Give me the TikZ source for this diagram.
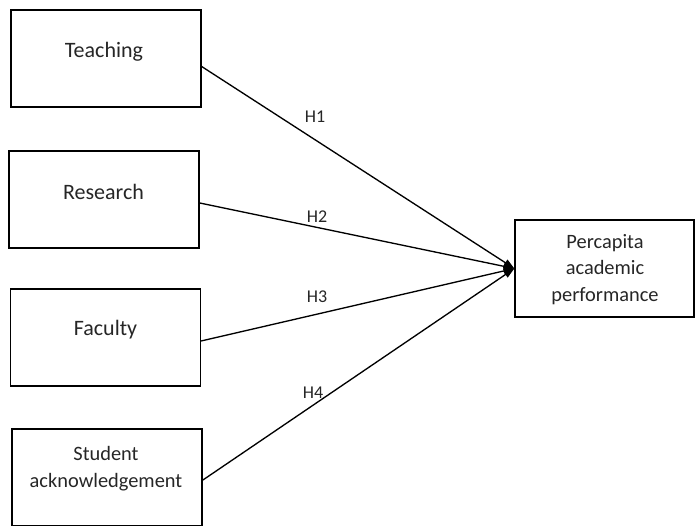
\documentclass[tikz,border=0pt]{standalone}
\usepackage{fontspec}
\setmainfont{Carlito}
\usetikzlibrary{arrows.meta}

\tikzset{
  box/.style={draw, line width=1pt, inner sep=0pt, minimum width=142.5pt, minimum height=72.75pt},
  boxtext/.style={inner sep=0.75pt, text=black!85, font=\fontsize{16.5}{20}\selectfont},
  smalltext/.style={inner sep=0.75pt, text=black!85, align=center, font=\fontsize{15.3}{19.8}\selectfont},
  hlabel/.style={inner sep=0.75pt, text=black!85, font=\fontsize{13.5}{16}\selectfont},
  link/.style={line width=1pt, -{Triangle[length=8pt,width=5.5pt]}}
}

\begin{document}
\begin{tikzpicture}[x=0.75pt,y=0.75pt,yscale=-1,xscale=1]
\useasboundingbox (0,0) rectangle (695,525);

% Boxes
\node [box] (teach) at (106,58.5) {};
\node [box] (research) at (104,199.5) {};
\node [box] (faculty) at (105.5,337.5) {};
\node [box] (student) at (107,477.5) {};
\node [box, minimum width=134.25pt] (perf) at (604.5,268.5) {};

% Text Node
\node [boxtext] (teachtxt) at (104,52) {Teaching};
% Text Node
\node [boxtext] (researchtxt) at (103.5,192) {Research};
% Text Node
\node [boxtext] (facultytxt) at (105.5,330) {Faculty};
% Text Node
\node [smalltext] (studenttxt) at (106,468.5) {Student\\acknowledgement};
% Text Node
\node [smalltext] (perftxt) at (605,269.5) {Percapita\\academic\\performance};

% Straight Lines
\draw [link] ([yshift=6pt]teach.east) -- (perf.west);
\draw [link] ([yshift=2.6pt]research.east) -- (perf.west);
\draw [link] ([yshift=2.6pt]faculty.east) -- (perf.west);
\draw [link] ([yshift=2pt]student.east) -- (perf.west);

% Text Node
\node [hlabel] (h1) at (315,117) {H1};
% Text Node
\node [hlabel] (h2) at (317,217) {H2};
% Text Node
\node [hlabel] (h3) at (317,297) {H3};
% Text Node
\node [hlabel] (h4) at (313,393) {H4};

\end{tikzpicture}
\end{document}
